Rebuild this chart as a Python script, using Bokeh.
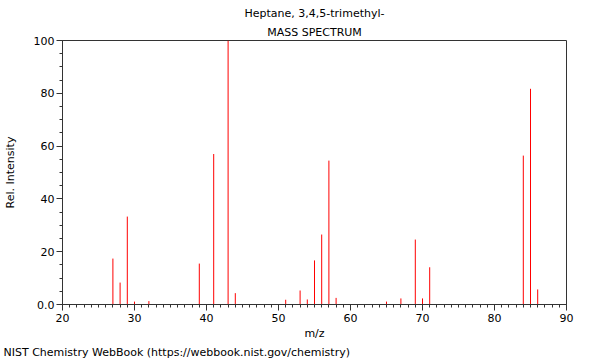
from bokeh.plotting import figure
from bokeh.models import SingleIntervalTicker, Range1d, Title
from bokeh.embed import file_html
from bokeh.resources import INLINE

mz = [27, 28, 29, 30, 32, 39, 41, 43, 44, 51, 53, 54, 55, 56, 57, 58,
      65, 67, 69, 70, 71, 84, 85, 86]
intensity = [17.4, 8.3, 33.3, 1.1, 1.3, 15.5, 57.0, 100.0, 4.3, 1.8, 5.3, 1.9,
             16.7, 26.5, 54.5, 2.5, 1.1, 2.3, 24.6, 2.3, 14.1, 56.4, 81.7, 5.7]

title1 = "Heptane, 3,4,5-trimethyl-"
title2 = "MASS SPECTRUM"
footer = "NIST Chemistry WebBook (https://webbook.nist.gov/chemistry)"
FONT = "DejaVu Sans"

p = figure(width=600, height=360, output_backend="svg", toolbar_location=None,
           x_range=Range1d(20, 90), y_range=Range1d(0, 100),
           min_border_left=62, min_border_right=34, min_border_top=40,
           min_border_bottom=56)
p.background_fill_color = "white"
p.border_fill_color = "white"
p.grid.visible = False
p.outline_line_color = "#333333"
p.outline_line_width = 1

p.segment(x0=mz, y0=[0] * len(mz), x1=mz, y1=intensity, line_color="#ff0000",
          line_width=1)

p.xaxis.ticker = SingleIntervalTicker(interval=10, num_minor_ticks=10)
p.yaxis.ticker = SingleIntervalTicker(interval=20, num_minor_ticks=4)
p.yaxis.major_label_overrides = {0: "0.0"}

for ax in (p.xaxis[0], p.yaxis[0]):
    ax.axis_line_color = "#333333"
    ax.major_tick_line_color = "#333333"
    ax.minor_tick_line_color = "#333333"
    ax.major_tick_out = 6
    ax.major_tick_in = 0
    ax.minor_tick_out = 3
    ax.minor_tick_in = 0
    ax.major_label_text_font = FONT
    ax.major_label_text_font_size = "11px"
    ax.major_label_text_color = "#000000"
    ax.axis_label_text_font = FONT
    ax.axis_label_text_font_size = "11px"
    ax.axis_label_text_font_style = "normal"
    ax.axis_label_text_color = "#000000"
    ax.major_label_standoff = 2

p.xaxis.axis_label = "m/z"
p.yaxis.axis_label = "Rel. Intensity"
p.xaxis.major_label_standoff = 3
p.xaxis.axis_label_standoff = 2
p.yaxis.axis_label_standoff = 14

p.add_layout(Title(text=title2, align="center", text_font=FONT,
                   text_font_size="11px", text_font_style="normal",
                   text_color="#000000", standoff=4), "above")
p.add_layout(Title(text=title1, align="center", text_font=FONT,
                   text_font_size="11px", text_font_style="normal",
                   text_color="#000000", standoff=4), "above")
p.add_layout(Title(text=footer, align="left", offset=-59, text_font=FONT,
                   text_font_size="11px", text_font_style="normal",
                   text_color="#000000", standoff=3), "below")

open("out.html", "w").write(file_html(p, INLINE))
